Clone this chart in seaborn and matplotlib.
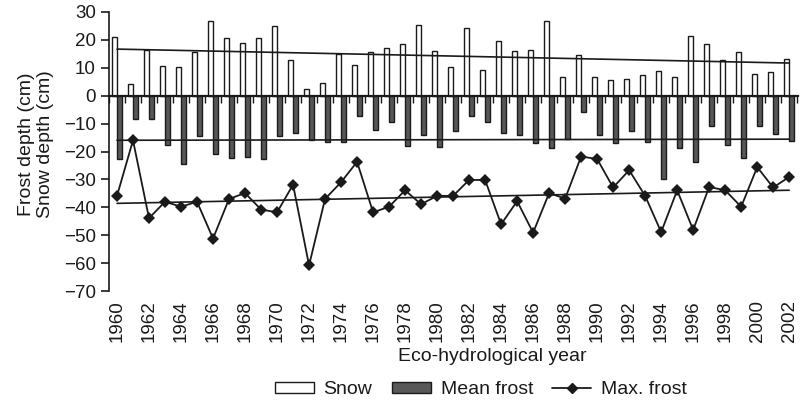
import numpy as np
import pandas as pd
import matplotlib
matplotlib.use("Agg")
import matplotlib.pyplot as plt
from matplotlib.patches import Patch
from matplotlib.lines import Line2D
import seaborn as sns

# Annual series, eco-hydrological years 1960-2002 (cm)
years = list(range(1960, 2003))
snow_depth = [21.0, 4.3, 16.4, 10.6, 10.2, 15.7, 26.7, 20.8, 19.0, 20.8,
              24.9, 12.7, 2.4, 4.4, 15.1, 11.1, 15.7, 17.0, 18.4, 25.4,
              16.0, 10.2, 24.2, 9.2, 19.5, 16.0, 16.5, 26.7, 6.8, 14.6,
              6.8, 5.5, 5.9, 7.3, 8.7, 6.8, 21.4, 18.5, 12.7, 15.6,
              7.8, 8.4, 13.0]
mean_frost = [-22.7, -8.3, -8.3, -17.6, -24.4, -14.6, -20.9, -22.5, -21.8, -22.7,
              -14.6, -13.2, -15.8, -16.5, -16.6, -7.4, -12.2, -9.3, -17.9, -14.1,
              -18.4, -12.8, -7.4, -9.3, -13.2, -14.1, -17.1, -18.9, -15.6, -5.9,
              -14.1, -17.1, -12.8, -16.5, -29.8, -18.9, -23.8, -10.8, -17.5, -22.4,
              -10.8, -13.6, -16.2]
max_frost = [-35.9, -16.0, -43.9, -38.0, -39.8, -38.0, -51.2, -37.0, -34.9, -40.8,
             -41.8, -31.9, -60.8, -37.0, -31.0, -23.7, -41.8, -39.8, -33.9, -38.9,
             -35.9, -35.9, -30.2, -30.2, -46.1, -37.8, -49.1, -34.9, -36.9, -21.8,
             -22.7, -32.9, -26.7, -35.9, -48.9, -33.9, -48.1, -32.7, -33.9, -39.8,
             -25.6, -32.9, -29.1]
series_names = ["Snow", "Mean frost", "Max. frost"]

sns.set_style("white")
plt.rcParams["font.family"] = ["Liberation Sans", "DejaVu Sans"]
plt.rcParams["text.color"] = "#1a1a1a"
plt.rcParams["axes.labelcolor"] = "#1a1a1a"
plt.rcParams["xtick.color"] = "#1a1a1a"
plt.rcParams["ytick.color"] = "#1a1a1a"

INK = "#1a1a1a"
FROST_GREY = "#585858"

n = len(years)
pos = np.arange(n)

fig, ax = plt.subplots(figsize=(8.03, 4.03), dpi=100)
fig.subplots_adjust(left=109 / 803, right=798 / 803, top=1 - 12 / 403, bottom=1 - 291 / 403)

bars = pd.DataFrame({
    "year": years * 2,
    "depth": snow_depth + mean_frost,
    "kind": [series_names[0]] * n + [series_names[1]] * n,
})
sns.barplot(data=bars, x="year", y="depth", hue="kind",
            hue_order=series_names[:2],
            palette={series_names[0]: "white", series_names[1]: FROST_GREY},
            edgecolor=INK, linewidth=1.0, width=0.6, gap=0,
            errorbar=None, legend=False, ax=ax)

sns.lineplot(x=pos, y=max_frost, color=INK, marker="D", markersize=6.5,
             markeredgewidth=0, linewidth=1.3, ax=ax)

# Linear trends of each series
for values in (snow_depth, mean_frost, max_frost):
    sns.regplot(x=pos, y=np.array(values), scatter=False, ci=None, truncate=True,
                color=INK, line_kws={"linewidth": 1.2}, ax=ax)

ax.set_ylim(-70, 30)
ax.set_yticks(range(-70, 31, 10))
ax.set_xlim(-0.5, 42.55)
ax.set_xticks(pos[::2])
ax.set_xticklabels([str(y) for y in years[::2]], rotation=90)
ax.tick_params(axis="x", length=0, pad=6.5, labelsize=13.5)
ax.tick_params(axis="y", length=6, width=1.2, direction="out", pad=3.5,
               labelsize=13.5, left=True)
for side in ("top", "right", "bottom"):
    ax.spines[side].set_visible(False)
ax.spines["left"].set_linewidth(1.2)
ax.spines["left"].set_color(INK)

# Zero line with year-boundary ticks
zero_axis = ax.secondary_xaxis(0, transform=ax.transData)
zero_axis.set_xticks(np.arange(-0.5, n, 1.0))
zero_axis.tick_params(axis="x", length=5, width=1.0, direction="out",
                      labelbottom=False, labeltop=False, color=INK)
zero_axis.spines["bottom"].set_linewidth(1.6)
zero_axis.spines["bottom"].set_color(INK)
zero_axis.set_zorder(5)

ax.set_xlabel("Eco-hydrological year", fontsize=14)
ax.xaxis.set_label_coords(0.556, -0.205)
ax.set_ylabel("Frost depth (cm)\nSnow depth (cm)", fontsize=14, linespacing=1.15)
ax.yaxis.set_label_coords(-0.08, 0.527)

handles = [
    Patch(facecolor="white", edgecolor=INK, linewidth=1.0),
    Patch(facecolor=FROST_GREY, edgecolor=INK, linewidth=1.0),
    Line2D([], [], color=INK, marker="D", markersize=5, linewidth=1.3),
]
fig.legend(handles, series_names, loc="center", bbox_to_anchor=(481 / 803, 1 - 390 / 403),
           ncol=3, frameon=False, fontsize=14, handlelength=2.0, handleheight=0.45,
           handletextpad=0.5, columnspacing=1.0, borderaxespad=0, borderpad=0)

fig.savefig("out.png", dpi=100)
